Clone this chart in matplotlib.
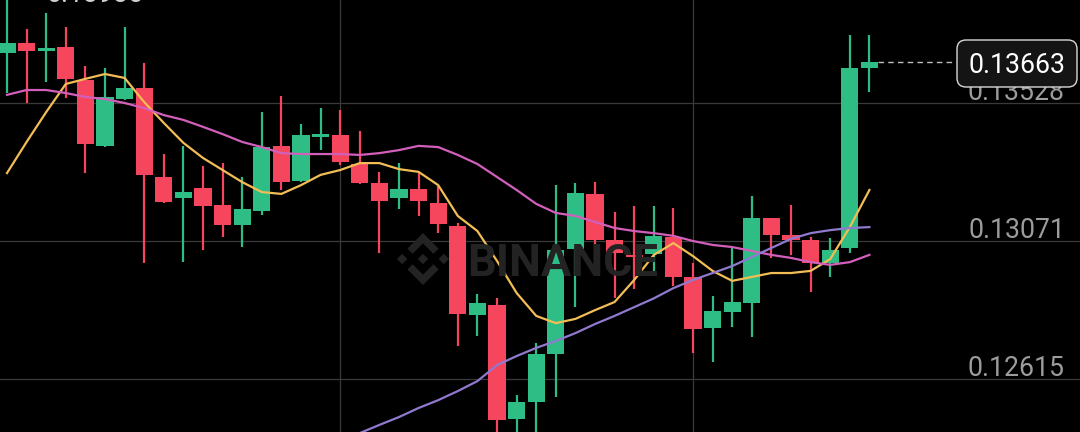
import matplotlib
matplotlib.use("Agg")
import matplotlib.pyplot as plt
import matplotlib.transforms as mtransforms
from matplotlib.patches import FancyBboxPatch, Polygon
import numpy as np

# свечи (цены)
opens = [0.13694, 0.13727, 0.13700, 0.13713, 0.13604, 0.13386, 0.13541, 0.13578, 0.13283, 0.13213,
         0.13247, 0.13190, 0.13124, 0.13170, 0.13386, 0.13270, 0.13415, 0.13422, 0.13326, 0.13263,
         0.13213, 0.13243, 0.13197, 0.13121, 0.12826, 0.12859, 0.12482, 0.12538, 0.12697, 0.13045,
         0.13227, 0.13074, 0.13025, 0.13028, 0.13084, 0.12952, 0.12783, 0.12836, 0.12866, 0.13147,
         0.13091, 0.13074, 0.12998, 0.13048, 0.13644]
highs = [0.13886, 0.13773, 0.13826, 0.13780, 0.13651, 0.13644, 0.13780, 0.13661, 0.13359, 0.13386,
         0.13318, 0.13329, 0.13283, 0.13498, 0.13551, 0.13459, 0.13511, 0.13505, 0.13435, 0.13300,
         0.13329, 0.13296, 0.13253, 0.13131, 0.12895, 0.12881, 0.12561, 0.12733, 0.13256, 0.13263,
         0.13266, 0.13167, 0.13187, 0.13187, 0.13180, 0.12998, 0.12889, 0.13051, 0.13220, 0.13147,
         0.13190, 0.13084, 0.13081, 0.13753, 0.13753]
lows = [0.13561, 0.13528, 0.13598, 0.13545, 0.13296, 0.13382, 0.13538, 0.12998, 0.13197, 0.13001,
        0.13041, 0.13084, 0.13051, 0.13157, 0.13240, 0.13266, 0.13372, 0.13323, 0.13260, 0.13031,
        0.13177, 0.13154, 0.13097, 0.12723, 0.12756, 0.12395, 0.12395, 0.12425, 0.12554, 0.12852,
        0.12995, 0.12881, 0.12912, 0.12965, 0.12922, 0.12700, 0.12670, 0.12786, 0.12753, 0.13015,
        0.13025, 0.12902, 0.12952, 0.13031, 0.13564]
closes = [0.13727, 0.13700, 0.13710, 0.13608, 0.13392, 0.13548, 0.13578, 0.13290, 0.13200, 0.13233,
          0.13187, 0.13124, 0.13177, 0.13382, 0.13266, 0.13422, 0.13425, 0.13333, 0.13263, 0.13204,
          0.13243, 0.13204, 0.13127, 0.12829, 0.12866, 0.12478, 0.12538, 0.12697, 0.13041, 0.13230,
          0.13074, 0.13031, 0.13018, 0.13088, 0.12952, 0.12780, 0.12839, 0.12869, 0.13147, 0.13091,
          0.13074, 0.12998, 0.13041, 0.13644, 0.13663]

# скользящие средние
ma7 = [0.13296, 0.13399, 0.13498, 0.13591, 0.13608, 0.13624, 0.13611, 0.13531, 0.13462, 0.13396,
       0.13346, 0.13306, 0.13266, 0.13233, 0.13227, 0.13256, 0.13290, 0.13306, 0.13329, 0.13329,
       0.13309, 0.13300, 0.13256, 0.13154, 0.13104, 0.13005, 0.12899, 0.12823, 0.12799, 0.12813,
       0.12842, 0.12869, 0.12942, 0.13025, 0.13064, 0.13021, 0.12972, 0.12939, 0.12952, 0.12965,
       0.12965, 0.12972, 0.13011, 0.13117, 0.13240]
ma25 = [0.13555, 0.13571, 0.13571, 0.13561, 0.13548, 0.13541, 0.13528, 0.13511, 0.13488, 0.13472,
        0.13449, 0.13425, 0.13399, 0.13382, 0.13362, 0.13359, 0.13359, 0.13359, 0.13356, 0.13362,
        0.13372, 0.13386, 0.13382, 0.13356, 0.13326, 0.13283, 0.13240, 0.13194, 0.13164, 0.13154,
        0.13134, 0.13114, 0.13104, 0.13097, 0.13088, 0.13071, 0.13058, 0.13051, 0.13038, 0.13025,
        0.13015, 0.13001, 0.12992, 0.13001, 0.13025]
ma99_start = 18
ma99 = [0.12435, 0.12462, 0.12488, 0.12518, 0.12544, 0.12574, 0.12607, 0.12660, 0.12690, 0.12717,
        0.12740, 0.12766, 0.12796, 0.12823, 0.12852, 0.12881, 0.12915, 0.12942, 0.12965, 0.12988,
        0.13018, 0.13048, 0.13078, 0.13097, 0.13107, 0.13114, 0.13117]

grid_levels = [0.13985, 0.13528, 0.13071, 0.12615]
grid_labels = ["0.13985", "0.13528", "0.13071", "0.12615"]
vgrid_idx = [17, 35]
last_price = "0.13663"

GREEN = "#2EBD85"
RED = "#F6465D"
FONT = ["Roboto", "DejaVu Sans"]

fig = plt.figure(figsize=(10.8, 4.32), dpi=100, facecolor="black")
ax = fig.add_axes([0, 0, 1, 1], facecolor="black")
ax.set_xlim(-7 / 19.6, 1073 / 19.6)
ax.set_ylim(0.124385, 0.138691)
ax.axis("off")

# сетка
for lv in grid_levels:
    ax.axhline(lv, color="#3a3a3a", lw=0.9, zorder=0)
for vx in vgrid_idx:
    ax.axvline(vx, color="#3a3a3a", lw=0.9, zorder=0)

# водяной знак
inch = fig.dpi_scale_trans
cx, cy, s = 4.23, 1.73, 0.26
def diamond(x0, y0, r):
    return [(x0 - r, y0), (x0, y0 + r), (x0 + r, y0), (x0, y0 - r)]
shapes = [diamond(0, 0, 0.2), diamond(-0.8, 0, 0.2), diamond(0.8, 0, 0.2),
          [(-0.6, 0.4), (0, 1.0), (0.6, 0.4), (0.4, 0.2), (0, 0.6), (-0.4, 0.2)],
          [(-0.6, -0.4), (0, -1.0), (0.6, -0.4), (0.4, -0.2), (0, -0.6), (-0.4, -0.2)]]
for sh in shapes:
    pts = [(cx + px * s, cy + py * s) for px, py in sh]
    fig.patches.append(Polygon(pts, closed=True, transform=inch, fc="#232323", ec="none", zorder=0))
fig.text(4.67 / 10.8, 1.56 / 4.32, "BINANCE", color="#232323", fontsize=32.5,
         fontweight="bold", family=FONT, ha="left", va="baseline", zorder=0)

# свечи
x = np.arange(len(opens))
o = np.array(opens); c = np.array(closes)
colors = [GREEN if cc >= oo else RED for oo, cc in zip(opens, closes)]
ax.vlines(x, lows, highs, colors=colors, lw=1.6, zorder=2)
ax.bar(x, np.abs(c - o), bottom=np.minimum(o, c), width=0.87, color=colors, zorder=3)

# линии MA
ax.plot(x, ma7, color="#F2BD55", lw=1.6, zorder=4)
ax.plot(x, ma25, color="#D35FBC", lw=1.6, zorder=4)
ax.plot(np.arange(ma99_start, ma99_start + len(ma99)), ma99, color="#9079CF", lw=1.6, zorder=4)

# подписи уровней (справа), верхняя подпись видна только слева у края
off = mtransforms.offset_copy(ax.get_yaxis_transform(), fig=fig, x=0, y=3, units="dots")
for lv, lab in zip(grid_levels[1:], grid_labels[1:]):
    ax.text(0.986, lv, lab, transform=off, ha="right", va="baseline",
            color="#9c9c9c", fontsize=19.2, family=FONT, zorder=5)
fig.text(0.0435, 1 - 2 / 432, grid_labels[0], color="#d0d0d0", fontsize=19.2,
         family=FONT, ha="left", va="baseline")

# текущая цена
ax.plot([x[-1] + 0.45, 48.4], [closes[-1], closes[-1]], color="#bdbdbd", lw=1,
        dashes=(4, 3), zorder=5)
box = FancyBboxPatch((9.60, 3.48), 1.14, 0.41, boxstyle="round,pad=0.03,rounding_size=0.09",
                     transform=inch, fc="#141414", ec="#d8d8d8", lw=1.0, zorder=6)
fig.patches.append(box)
fig.text(10.17 / 10.8, (432 - 73) / 432, last_price, color="white", fontsize=19.2,
         family=FONT, ha="center", va="baseline", zorder=7)

fig.savefig("out.png", dpi=100, facecolor="black")
